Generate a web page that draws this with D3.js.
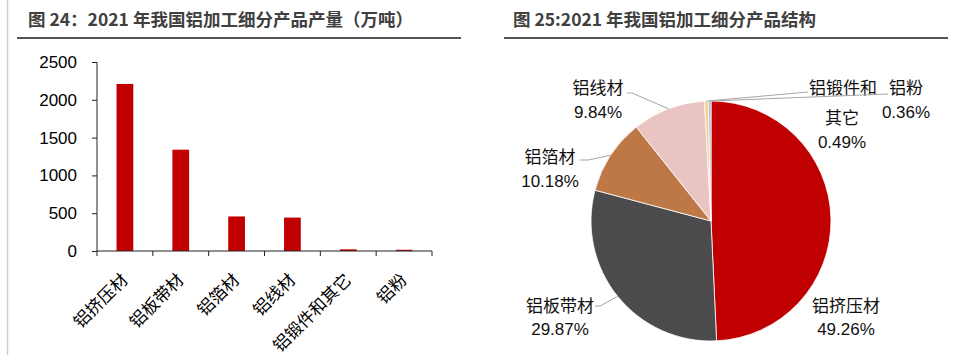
<!DOCTYPE html>
<html><head><meta charset="utf-8">
<script src="https://cdn.jsdelivr.net/npm/d3@7"></script>
<style>body{margin:0;background:#fff} svg{display:block}</style>
</head><body><svg id="c" width="961" height="358"></svg>
<script>
// ---- data ----
const categories = ["铝挤压材","铝板带材","铝箔材","铝线材","铝锻件和其它","铝粉"];
const output = [2210, 1340, 457, 442, 22, 16];          // 万吨
const yTicks = [0, 500, 1000, 1500, 2000, 2500];
const shares = [49.26, 29.87, 10.18, 9.84, 0.49, 0.36];  // %
const shareLabels = ["49.26%","29.87%","10.18%","9.84%","0.49%","0.36%"];
const pieNames = [["铝挤压材"],["铝板带材"],["铝箔材"],["铝线材"],["铝锻件和","其它"],["铝粉"]];
const pieColors = ["#C00000","#4B4B4D","#BE7846","#EAC3C3","#F0D08C","#A9BCCF"];
const titles = ["图 24：2021 年我国铝加工细分产品产量（万吨）","图 25:2021 年我国铝加工细分产品结构"];

// ---- layout ----
const FONT = "'Liberation Sans', Arial, 'Noto Sans CJK SC', sans-serif";
const svg = d3.select("#c");
const W = 961, H = 358;

// page border line
svg.append("line").attr("x1",7.5).attr("x2",7.5).attr("y1",0).attr("y2",355)
  .attr("stroke","#cfcfcf").attr("stroke-width",1.5);

// titles
const titleCfg = [{x:28, x1:17, x2:461},{x:513, x1:504, x2:948}];
titles.forEach((t,i)=>{
  svg.append("text").attr("x",titleCfg[i].x).attr("y",18).attr("dominant-baseline","central")
    .attr("font-family","'Noto Sans CJK SC', sans-serif").attr("font-weight","bold")
    .attr("font-size",17.5).attr("fill","#404040").text(t);
  svg.append("line").attr("x1",titleCfg[i].x1).attr("x2",titleCfg[i].x2)
    .attr("y1",38).attr("y2",38).attr("stroke","#555").attr("stroke-width",2.2);
});

// ---- bar chart ----
const x = d3.scaleBand().domain(categories).range([97, 432]).paddingInner(0.7).paddingOuter(0.35);
const y = d3.scaleLinear().domain([0, 2500]).range([251, 62]);

const yAxis = svg.append("g").attr("transform","translate(97,0)")
  .call(d3.axisLeft(y).tickValues(yTicks).tickSize(5).tickPadding(15).tickFormat(d3.format("d")));
yAxis.select(".domain").attr("stroke","#222").attr("d","M0,62V251");
yAxis.selectAll(".tick line").attr("stroke","#222");
yAxis.selectAll("text").attr("font-family",FONT).attr("font-size",17).attr("fill","#000");

svg.append("g").selectAll("rect").data(categories).join("rect")
  .attr("x", d=>x(d)).attr("width", x.bandwidth())
  .attr("y", (d,i)=>y(output[i])).attr("height",(d,i)=>y(0)-y(output[i]))
  .attr("fill","#C00000");

// x axis line + boundary ticks
const step = x.step(), gap = (step - x.bandwidth())/2;
svg.append("line").attr("x1",97).attr("x2",432).attr("y1",y(0)).attr("y2",y(0)).attr("stroke","#222");
const bounds = categories.map(d=>x(d)-gap).concat([x(categories[categories.length-1])+x.bandwidth()+gap]);
svg.append("g").selectAll("line").data(bounds).join("line")
  .attr("x1",d=>d).attr("x2",d=>d).attr("y1",y(0)).attr("y2",y(0)+5).attr("stroke","#222");

svg.append("g").selectAll("text").data(categories).join("text")
  .attr("transform", d=>`translate(${x(d)+x.bandwidth()/2+4},${y(0)+30}) rotate(-45)`)
  .attr("text-anchor","end").attr("font-family",FONT).attr("font-size",17).attr("fill","#000")
  .text(d=>d);

// ---- pie chart ----
const cx = 711, cy = 221, R = 120;
const pie = d3.pie().sort(null).value(d=>d);
const arcs = pie(shares);
const arc = d3.arc().innerRadius(0).outerRadius(R);
const edge = d3.arc().innerRadius(R).outerRadius(R);
const pg = svg.append("g").attr("transform",`translate(${cx},${cy})`);
pg.selectAll("path").data(arcs).join("path").attr("d",arc)
  .attr("fill",(d,i)=>pieColors[i]).attr("stroke","#fff").attr("stroke-width",0.8);

// label layout (relative to pie centre): lines y positions, x, leader start
const labelLayout = [
  {x:135, ys:[85,108], lead:null},
  {x:-151, ys:[85,108], lead:[[-116,85],[-111,85]]},
  {x:-161, ys:[-64,-40], lead:[[-131,-61],[-123,-61]]},
  {x:-113, ys:[-133,-109], lead:[[-84,-128],[-79,-128]]},
  {x:132, ys:[-133,-103,-79], lead:[[97,-129]], xs:[132,131,131]},
  {x:195, ys:[-133,-109], lead:[[177,-127]]}
];
const line = d3.line();
arcs.forEach((a,i)=>{
  const L = labelLayout[i];
  if (L.lead){
    const p = edge.centroid(a);
    pg.append("path").attr("d", line(L.lead.concat([p]))).attr("fill","none")
      .attr("stroke","#A6A6A6").attr("stroke-width",1);
  }
  const texts = pieNames[i].concat([shareLabels[i]]);
  texts.forEach((t,j)=>{
    pg.append("text").attr("x", L.xs ? L.xs[j] : L.x).attr("y", L.ys[j])
      .attr("text-anchor","middle").attr("dominant-baseline","central")
      .attr("font-family",FONT).attr("font-size",17).attr("fill","#111").text(t);
  });
});
</script>
</body></html>
